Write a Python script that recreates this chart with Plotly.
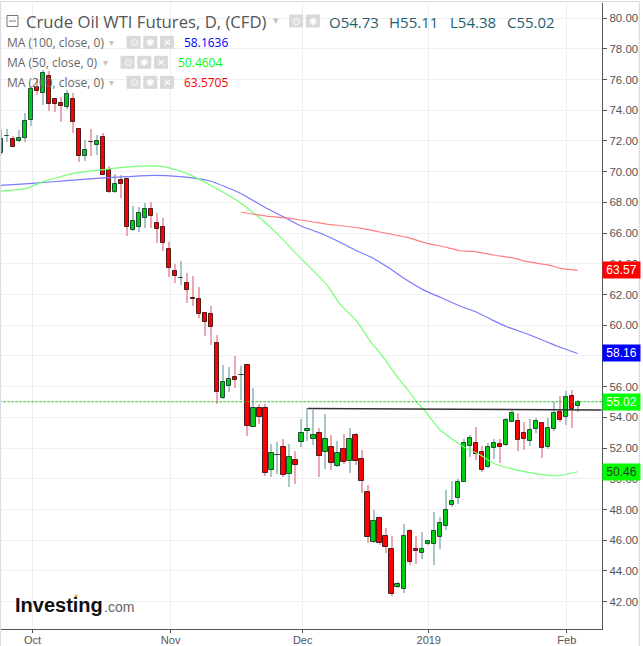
import plotly.graph_objects as go

# Daily candles (index 0 = last bars of Sep 2018)
opens = [71.2,72.30,72.1,72.0,72.2,73.35,75.5,75.15,76.2,74.7,74.45,74.2,74.7,72.77,71.05,71.92,71.75,72.23,70.1,68.7,
         69.43,69.55,66.17,66.37,66.95,67.58,66.67,66.37,64.94,63.5,63.05,62.73,61.74,61.68,60.77,60.7,58.87,55.28,56.02,56.6,
         56.74,57.38,53.38,54.64,54.64,50.58,51.54,52.1,50.32,51.25,52.4,53.13,52.6,52.95,51.76,52.04,50.85,51.97,51.17,52.82,
         51.26,49.17,45.9,47.42,46.25,45.46,42.97,42.84,46.57,45.46,45.18,45.76,45.78,46.23,46.9,48.31,48.73,49.81,52.16,52.31,
         51.72,50.79,52.03,52.29,52.22,53.67,53.74,52.96,52.44,53.22,53.61,52.09,53.26,54.33,54.0,55.37,54.73]
highs = [72.8,72.8,72.3,72.7,73.8,75.6,76.0,76.6,76.55,74.7,74.85,75.3,75.1,72.8,72.05,72.75,72.4,72.5,70.35,69.85,
         69.8,69.6,67.75,67.67,67.97,68.0,67.28,67.0,65.4,63.96,64.18,63.38,63.2,62.46,60.8,61.27,59.38,57.4,57.25,58.0,
         57.34,57.47,55.9,54.86,54.86,52.25,52.38,52.56,52.25,51.8,53.9,54.58,54.5,53.34,54.25,52.84,52.45,52.9,53.3,53.0,
         51.9,49.6,48.0,47.52,46.78,46.26,43.29,47.05,46.72,46.26,46.53,46.0,47.83,47.52,49.27,49.85,49.99,52.57,52.85,53.39,
         52.13,52.3,52.59,52.59,53.93,54.52,54.26,53.7,53.87,53.93,53.72,53.93,55.02,55.39,55.71,55.78,55.11]
lows = [71.1,71.95,71.6,71.95,71.9,73.0,75.0,74.35,73.97,73.9,73.2,74.05,72.5,70.6,70.7,71.0,71.1,69.75,68.6,68.6,
        68.3,65.8,66.15,66.1,66.3,66.33,65.37,64.85,63.16,62.77,62.6,61.43,61.27,60.5,59.32,58.73,54.85,55.2,55.67,55.93,
        55.13,52.81,53.38,53.56,50.17,50.13,50.3,50.13,49.47,49.65,52.08,52.47,52.2,50.13,50.63,50.56,50.78,50.95,50.39,50.9,
        49.08,45.8,45.8,45.68,45.18,42.38,42.9,42.58,44.38,44.48,44.8,45.7,44.4,45.4,46.66,48.18,48.36,49.77,51.44,51.22,
        50.46,50.72,51.29,51.05,52.13,53.67,51.83,51.87,52.13,53.0,51.37,51.92,53.13,53.72,53.48,53.3,54.38]
closes = [72.1,72.32,71.6,72.2,73.27,75.35,75.27,76.45,74.38,74.38,74.3,75.03,73.2,71.0,71.4,71.90,71.97,69.75,68.7,69.17,
          69.2,66.41,66.8,67.32,67.58,67.08,66.24,65.33,63.7,63.18,63.08,62.27,61.71,60.7,60.18,59.9,55.67,56.28,56.47,56.45,
          56.77,53.46,54.64,54.03,50.39,51.65,51.58,50.28,51.45,50.9,52.95,53.27,52.88,51.5,52.62,51.0,51.65,51.1,52.56,51.17,
          49.87,46.22,47.22,45.83,45.57,42.5,43.18,46.25,44.6,45.3,45.4,45.92,46.57,47.1,47.95,48.53,49.77,52.35,52.63,51.59,
          50.55,52.09,52.31,52.09,53.8,54.26,52.55,52.61,53.15,53.74,51.98,53.33,54.26,53.8,55.3,54.56,55.02]

# Moving averages, read at the bars where they could be read
ma100_x = [-0.2,5.2,10.9,16.4,20.9,25.3,29.8,34.8,39.8,44.2,47,49.8,53.1,55.9,59.2,62,64.4,67,70.3,73.1,76.4,79.2,82,84.2,87.6,90.9,92.6,96]
ma100_y = [69.1,69.24,69.41,69.58,69.67,69.76,69.67,69.39,68.59,67.61,67.06,66.48,66.0,65.5,64.85,64.35,63.77,63.07,62.3,61.82,61.25,60.84,60.3,59.9,59.43,58.91,58.63,58.16]
ma50_x = [-0.2,4.2,7,12,16.4,19.8,24.2,27.6,30.9,35.3,39.8,43.1,45.9,49.8,51.4,54.2,56.4,59.2,61.4,63.7,66.2,67.8,69.2,70.4,73.1,77,79.8,82,84.8,88.7,92.6,96]
ma50_y = [68.72,68.91,69.35,69.89,70.1,70.26,70.37,70.28,69.89,69.02,67.98,66.96,65.98,64.38,63.77,62.64,61.38,60.26,59.0,57.87,56.51,55.75,55.0,54.5,53.18,52.09,51.55,51.0,50.68,50.35,50.2,50.46]
ma200_x = [39.9,44.2,47,49.8,52,54.2,57,60,64.2,67.6,70.9,74.2,76.4,78.7,82,85.3,87.6,91.4,93.1,96]
ma200_y = [67.37,67.1,67.0,66.85,66.72,66.58,66.46,66.3,65.98,65.72,65.33,65.07,64.85,64.81,64.57,64.37,64.14,63.9,63.7,63.57]

trend_x = [51, 100]
trend_y = [54.58, 54.48]
last_price = 55.02

y_ticks = list(range(42, 82, 2))
x_tick_pos = [5.2, 28.2, 50.2, 71.2, 94.2]
x_tick_text = ["Oct", "Nov", "Dec", "2019", "Feb"]

title = "Crude Oil WTI Futures, D, (CFD)"
ohlc_text = [("O", "54.73"), ("H", "55.11"), ("L", "54.38"), ("C", "55.02")]
ma_rows = [("MA (100, close, 0)", "58.1636", "#0000ff"),
           ("MA (50, close, 0)", "50.4604", "#00ff00"),
           ("MA (200, close, 0)", "63.5705", "#ff0000")]
price_tags = [(58.16, "#0000ff", "#ffffff"), (63.57, "#ff0000", "#ffffff"),
              (50.46, "#00ff00", "#333333"), (55.02, "#00ff00", "#ffffff")]

W, H = 643, 646
L, R, T, B = 1, 601.7, 3, 629
FONT = "Liberation Sans"

def px(x):
    return (x - L) / (R - L)

def py(y):
    return (B - y) / (B - T)

k = list(range(len(opens)))
up = [c >= o for o, c in zip(opens, closes)]
wick_col = ["#a9c7c9" if u else "#e8a9b3" for u in up]
fill_col = ["#00cc11" if u else "#ff0000" for u in up]
edge_col = ["#1e4d33" if u else "#4a1c1c" for u in up]

fig = go.Figure()
fig.add_trace(go.Bar(x=k, base=lows, y=[h - l for h, l in zip(highs, lows)], width=0.17,
                     marker=dict(color=wick_col, line=dict(width=0))))
fig.add_trace(go.Bar(x=k, base=[min(o, c) for o, c in zip(opens, closes)],
                     y=[abs(c - o) for o, c in zip(opens, closes)], width=0.68,
                     marker=dict(color=fill_col, line=dict(color=edge_col, width=1))))
fig.add_trace(go.Scatter(x=ma100_x, y=ma100_y, mode="lines", line=dict(color="#7a7aff", width=1.2, shape="spline", smoothing=0.5)))
fig.add_trace(go.Scatter(x=ma50_x, y=ma50_y, mode="lines", line=dict(color="#77ff77", width=1.2, shape="spline", smoothing=0.5)))
fig.add_trace(go.Scatter(x=ma200_x, y=ma200_y, mode="lines", line=dict(color="#ff8080", width=1.2, shape="spline", smoothing=0.5)))
fig.add_trace(go.Scatter(x=trend_x, y=trend_y, mode="lines", line=dict(color="#333333", width=1.4)))
fig.add_trace(go.Scatter(x=[-1, 100.06], y=[last_price, last_price], mode="lines",
                         line=dict(color="#10c010", width=1.1, dash="2.5px,1.5px")))

ann = []
shapes = []

def text(x, y, s, size, color, anchor="left", family=FONT):
    ann.append(dict(x=px(x), y=py(y), xref="paper", yref="paper", text=s, showarrow=False,
                    xanchor=anchor, yanchor="middle", align=anchor, borderpad=0,
                    font=dict(family=family, size=size, color=color)))

def buttons(x, y, glyphs):
    for i, g in enumerate(glyphs):
        x0 = x + i * 16.7
        shapes.append(dict(type="rect", xref="paper", yref="paper", x0=px(x0), x1=px(x0 + 14),
                           y0=py(y - 6.5), y1=py(y + 6.5), line=dict(width=0), fillcolor="#d9d9d9"))
        text(x0 + 7, y, g, 10, "#ffffff", "center", "DejaVu Sans")

# header
shapes.append(dict(type="rect", xref="paper", yref="paper", x0=px(7), x1=px(18), y0=py(15.5), y1=py(26.5),
                   line=dict(color="#777777", width=1), fillcolor="rgba(0,0,0,0)"))
shapes.append(dict(type="line", xref="paper", yref="paper", x0=px(9), x1=px(16), y0=py(21), y1=py(21),
                   line=dict(color="#777777", width=1)))
text(24.5, 21, title, 16.7, "#555555", family="Open Sans")
text(272, 20, "▾", 11, "#c4c4c4")
buttons(289, 21, ["⊙", "✱"])
ohlc_x = [328, 388, 449, 506]
for (a, b), x in zip(ohlc_text, ohlc_x):
    text(x, 22, a + b, 15, "#1f5f6f", family="Open Sans")

rows_y = [42.3, 62.3, 82.3]
btn_x = [126.5, 120.5, 126.5]
val_x = [182.5, 176.5, 182.5]
arrow_x = [108, 102, 108]
for (lab, val, col), y, bx, vx, ax in zip(ma_rows, rows_y, btn_x, val_x, arrow_x):
    text(6, y, lab, 12, "#666666", family="Open Sans")
    text(ax, y, "▾", 10, "#c4c4c4")
    buttons(bx, y, ["⊙", "✱", "✕"])
    text(vx, y, val, 12, col, family="Open Sans")

# logo
text(14, 605, "<b>Investing</b>", 20, "#111111")
text(103, 607, ".com", 14, "#666666")
shapes.append(dict(type="circle", xref="paper", yref="paper", x0=px(74.5), x1=px(77.5), y0=py(594.5), y1=py(597.5),
                   line=dict(width=0), fillcolor="#f7a11a"))

# chart frame
frame = "#d8dce4"
shapes.append(dict(type="line", xref="paper", yref="paper", x0=px(0), x1=px(639), y0=py(1.5), y1=py(1.5), line=dict(color=frame, width=1.2)))
shapes.append(dict(type="line", xref="paper", yref="paper", x0=px(639), x1=px(639), y0=py(1.5), y1=py(646), line=dict(color=frame, width=1.2)))
shapes.append(dict(type="line", xref="paper", yref="paper", x0=px(0.5), x1=px(0.5), y0=py(1.5), y1=py(646), line=dict(color=frame, width=1.2)))

# last value tags
for v, bg, fg in price_tags:
    ann.append(dict(x=1.0, y=v, xref="paper", yref="y", text=str(v), showarrow=False, xanchor="left",
                    yanchor="middle", width=37, height=16, bgcolor=bg, borderpad=0, align="center",
                    font=dict(family=FONT, size=12, color=fg)))

fig.update_layout(
    width=W, height=H, margin=dict(l=L, r=W - R, t=T, b=H - B),
    paper_bgcolor="#ffffff", plot_bgcolor="#ffffff", showlegend=False, barmode="overlay", bargap=0,
    annotations=ann, shapes=shapes,
    xaxis=dict(automargin=False, range=[-0.055, 100.06], tickvals=x_tick_pos, ticktext=x_tick_text, ticks="outside", ticklen=3,
               ticklabelstandoff=-2,
               tickcolor="#555555", showgrid=True, gridcolor="#efefef", gridwidth=1, zeroline=False,
               showline=True, linecolor="#555555", linewidth=1.2,
               tickfont=dict(family=FONT, size=11, color="#555555")),
    yaxis=dict(automargin=False, range=[40.22, 80.98], side="right", tickvals=y_ticks, ticktext=[f"{v:.2f}" for v in y_ticks],
               ticks="outside", ticklen=4, tickcolor="#555555", showgrid=True, gridcolor="#efefef", gridwidth=1,
               zeroline=False, showline=True, linecolor="#555555", linewidth=1.2,
               tickfont=dict(family=FONT, size=11.5, color="#555555")),
)

fig.write_html("out.html", config=dict(displayModeBar=False),
               post_script="document.body.style.margin='0';document.documentElement.style.overflow='hidden';")
